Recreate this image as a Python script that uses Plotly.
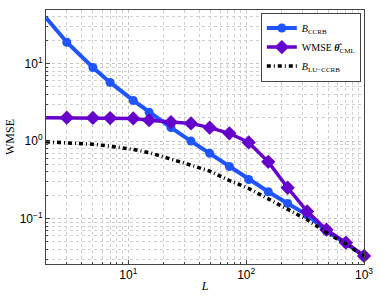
import plotly.graph_objects as go
import math

L = [2, 3, 5, 7, 11, 15, 23, 34, 49, 72, 105, 154, 225, 329, 480, 702, 1000]
B_CCRB = [39, 18.8, 8.87, 5.71, 3.34, 2.35, 1.49, 1.0, 0.695, 0.47, 0.32, 0.222, 0.157, 0.112, 0.069, 0.048, 0.033]
WMSE_CML = [2.0, 2.0, 1.99, 1.98, 1.96, 1.86, 1.75, 1.69, 1.49, 1.26, 0.96, 0.54, 0.25, 0.124, 0.072, 0.049, 0.033]
B_LU_CCRB = [0.98, 0.95, 0.91, 0.86, 0.78, 0.71, 0.59, 0.49, 0.41, 0.31, 0.245, 0.18, 0.13, 0.097, 0.066, 0.047, 0.033]

x_ticks = [10, 100, 1000]
x_ticktext = ["10<sup>1</sup>", "10<sup>2</sup>", "10<sup>3</sup>"]
y_ticks = [0.1, 1, 10]
y_ticktext = ["10<sup>−1</sup>", "10<sup>0</sup>", "10<sup>1</sup>"]

blue = "#1f55ff"
purple = "#6600cc"

fig = go.Figure()
fig.add_trace(go.Scatter(
    x=L, y=B_CCRB, mode="lines+markers", name="<i>B</i><sub>CCRB</sub>",
    line=dict(color=blue, width=4), marker=dict(symbol="circle", size=9, color=blue),
    cliponaxis=False))
fig.add_trace(go.Scatter(
    x=L, y=WMSE_CML, mode="lines+markers", name="WMSE <b><i>θ̂</i></b><sub>CML</sub>",
    line=dict(color=purple, width=3.5), marker=dict(symbol="diamond", size=11, color=purple),
    cliponaxis=False))
fig.add_trace(go.Scatter(
    x=L, y=B_LU_CCRB, mode="lines", name="<i>B</i><sub>LU−CCRB</sub>",
    line=dict(color="black", width=3.5, dash="4px,3px,1px,3px")))

axis_common = dict(
    type="log", showline=True, linecolor="#444", linewidth=1, mirror=True,
    ticks="inside", ticklen=4, tickcolor="#444",
    showgrid=True, gridcolor="#c4c4c4", griddash="dot", gridwidth=1,
    zeroline=False, ticklabeloverflow="allow",
    tickfont=dict(family="Liberation Sans, Arial", size=12, color="black"),
    minor=dict(dtick="D1", showgrid=True, gridcolor="#d0d0d0", griddash="dot", gridwidth=1,
               ticks="inside", ticklen=2, tickcolor="#444"),
)

fig.update_xaxes(**axis_common, range=[math.log10(2), 3], tickvals=x_ticks, ticktext=x_ticktext,
                 title=dict(text="<i>L</i>", font=dict(family="Liberation Serif, serif", size=12, color="black"), standoff=0))
fig.update_yaxes(**axis_common, range=[-1.585, 1.69], tickvals=y_ticks, ticktext=y_ticktext,
                 title=dict(text="WMSE", font=dict(family="Liberation Serif, serif", size=12, color="black"), standoff=2))

fig.update_layout(
    width=382, height=300,
    margin=dict(l=41, r=13, t=9, b=33),
    paper_bgcolor="white", plot_bgcolor="white",
    showlegend=True,
    legend=dict(x=0.99, y=0.99, xanchor="right", yanchor="top",
                bgcolor="white", bordercolor="#444", borderwidth=1,
                font=dict(family="Liberation Serif, serif", size=10, color="black"),
                tracegroupgap=0, itemwidth=30),
)

fig.write_html("out.html", config={"displayModeBar": False},
               post_script="document.body.style.margin='0';document.body.style.overflow='hidden';")
